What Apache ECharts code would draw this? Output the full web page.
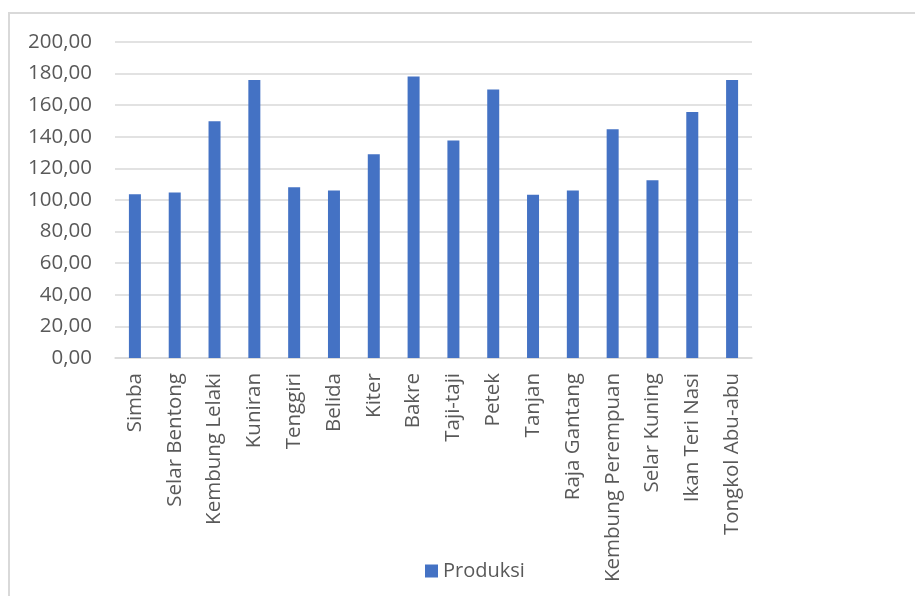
<!DOCTYPE html>
<html>
<head>
<meta charset="utf-8">
<script src="https://cdn.jsdelivr.net/npm/echarts@6/dist/echarts.min.js"></script>
<style>
html,body{margin:0;padding:0;background:#fff;}
#chart{width:915px;height:596px;}
</style>
</head>
<body>
<div id="chart"></div>
<script>
const categories = ['Simba','Selar Bentong','Kembung Lelaki','Kuniran','Tenggiri','Belida','Kiter','Bakre','Taji-taji','Petek','Tanjan','Raja Gantang','Kembung Perempuan','Selar Kuning','Ikan Teri Nasi','Tongkol Abu-abu'];
const produksi = [103.7,104.7,149.8,176.0,108.1,106.0,129.0,178.1,137.6,169.9,103.3,106.0,144.8,112.5,155.7,176.0];
const yTickLabels = ['0,00','20,00','40,00','60,00','80,00','100,00','120,00','140,00','160,00','180,00','200,00'];
const seriesName = 'Produksi';

const textColor = '#595959';
const fontFamily = '"Open Sans", "Noto Sans", sans-serif';

const chart = echarts.init(document.getElementById('chart'));
chart.setOption({
  animation: false,
  backgroundColor: '#ffffff',
  textStyle: { fontFamily: fontFamily },
  graphic: [{
    type: 'rect',
    silent: true,
    shape: { x: 9, y: 13, width: 1200, height: 1200 },
    style: { fill: 'none', stroke: '#d9d9d9', lineWidth: 2 }
  }],
  grid: { left: 115, right: 163, top: 42, bottom: 238, containLabel: false },
  legend: {
    data: [seriesName],
    left: 420,
    top: 556,
    itemWidth: 13,
    itemHeight: 13,
    itemGap: 6,
    icon: 'rect',
    textStyle: { color: textColor, fontSize: 20, fontFamily: fontFamily }
  },
  xAxis: {
    type: 'category',
    data: categories,
    axisLine: { show: true, lineStyle: { color: '#d9d9d9', width: 1.5 } },
    axisTick: { show: false },
    axisLabel: { rotate: 90, margin: 15, color: textColor, fontSize: 20.5, fontFamily: fontFamily, interval: 0 }
  },
  yAxis: {
    type: 'value',
    min: 0,
    max: 200,
    interval: 20,
    axisLine: { show: false },
    axisTick: { show: false },
    splitLine: { lineStyle: { color: '#d9d9d9', width: 1.5 } },
    axisLabel: {
      margin: 23,
      color: textColor,
      fontSize: 20.5,
      fontFamily: fontFamily,
      formatter: function (v) { return yTickLabels[Math.round(v / 20)]; }
    }
  },
  series: [{
    name: seriesName,
    type: 'bar',
    data: produksi,
    barWidth: 12,
    itemStyle: { color: '#4472C4' }
  }]
});
</script>
</body>
</html>
